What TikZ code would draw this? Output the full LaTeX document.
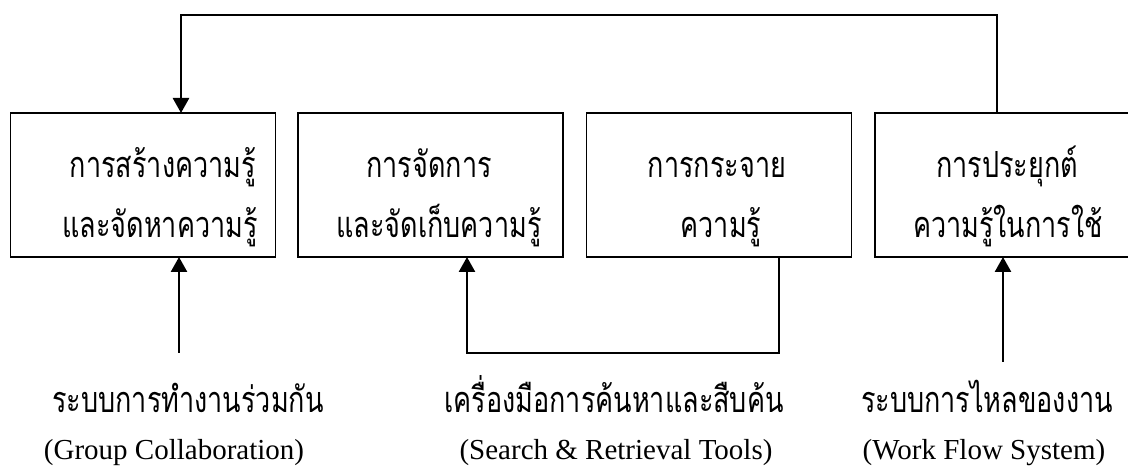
\documentclass[tikz,border=0pt]{standalone}
\usepackage{fontspec}
\setmainfont{Liberation Serif}
\newfontfamily\thai[Script=Thai,FakeStretch=0.75]{Loma}
\usetikzlibrary{arrows.meta}
\begin{document}
\begin{tikzpicture}[x=1pt,y=-1pt,
  box/.style={draw, line width=1.5pt, rectangle, minimum height=144pt, minimum width=265pt, inner sep=0pt, outer sep=0pt},
  thaitext/.style={font=\thai\fontsize{36}{40}\selectfont, anchor=base, inner sep=0pt},
  lattext/.style={font=\fontsize{29}{32}\selectfont, anchor=base, inner sep=0pt},
  conn/.style={line width=1.5pt, line cap=rect},
  arr/.style={line width=2.6pt, -{Triangle[width=16pt,length=15pt]}}]
\useasboundingbox (0,0) rectangle (1128,470);
% boxes
\node[box] (b1) at (143,185) {};
\node[box] (b2) at (430.5,185) {};
\node[box] (b3) at (719,185) {};
\node[box] (b4) at (1007.5,185) {};
% box texts
\node[thaitext] (t1a) at (163,178) {การสร้างความรู้};
\node[thaitext] (t1b) at (160,238) {และจัดหาความรู้};
\node[thaitext] (t2a) at (429,178) {การจัดการ};
\node[thaitext] (t2b) at (439,238) {และจัดเก็บความรู้};
\node[thaitext] (t3a) at (717,178) {การกระจาย};
\node[thaitext] (t3b) at (721,238) {ความรู้};
\node[thaitext] (t4a) at (1007,178) {การประยุกต์};
\node[thaitext] (t4b) at (1008,238) {ความรู้ในการใช้};
% bottom labels
\node[thaitext] (l1) at (188,413) {ระบบการทำงานร่วมกัน};
\node[lattext] (e1) at (174,459) {(Group Collaboration)};
\node[thaitext] (l2) at (614,413) {เครื่องมือการค้นหาและสืบค้น};
\node[lattext] (e2) at (616,459) {(Search \& Retrieval Tools)};
\node[thaitext] (l3) at (987,413) {ระบบการไหลของงาน};
\node[lattext] (e3) at (984,459) {(Work Flow System)};
% connector points
\coordinate (c1) at (997,15);
\coordinate (c2) at (181,15);
\coordinate (g1) at (179,353);
\coordinate (s1) at (779,353);
\coordinate (s2) at (467,353);
\coordinate (w1) at (1003,362);
% connectors
\draw[conn] (b4.north -| c1) -- (c1) -- (c2);
\draw[arr] (c2) -- (c2 |- b1.north);
\draw[arr] (g1) -- (g1 |- b1.south);
\draw[conn] (b3.south -| s1) -- (s1) -- (s2);
\draw[arr] (s2) -- (s2 |- b2.south);
\draw[arr] (w1) -- (w1 |- b4.south);
\end{tikzpicture}
\end{document}
